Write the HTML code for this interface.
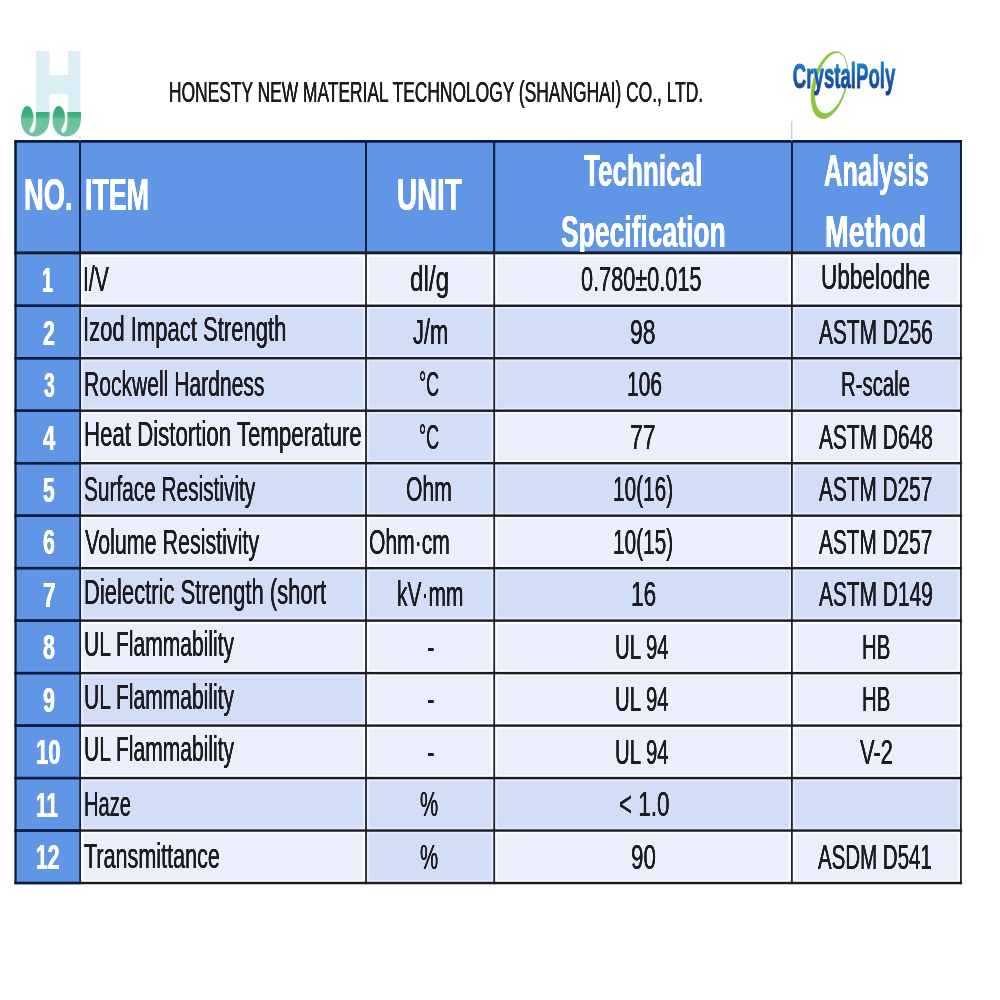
<!DOCTYPE html>
<html><head><meta charset="utf-8"><title>Technical Data Sheet</title>
<style>
html,body{margin:0;padding:0;background:#fff;}
body{filter:blur(0.45px);width:1000px;height:1000px;position:relative;overflow:hidden;font-family:"Liberation Sans",sans-serif;}
.t{color:#1c1c1e;position:absolute;white-space:pre;transform-origin:0 0;line-height:1;margin:0;text-shadow:0.12px 0 0 currentColor,-0.12px 0 0 currentColor;}
.b{font-weight:bold;color:#fff;text-shadow:0.25px 0 0 currentColor,-0.25px 0 0 currentColor;}
.logo{font-weight:bold;color:transparent;background:linear-gradient(#1b86c8 18%,#1a5cb2 50%,#173e9a 80%);-webkit-background-clip:text;background-clip:text;}
.hd{position:absolute;left:0;top:0;width:1000px;height:251.7px;overflow:hidden;}
svg{position:absolute;left:0;top:0;}
</style></head><body>

<svg width="1000" height="1000" viewBox="0 0 1000 1000">
<rect x="15.5" y="141.3" width="945.4" height="111.69999999999999" fill="#6195e6"/>
<rect x="15.5" y="253.0" width="64.6" height="630.03" fill="#6195e6"/>
<rect x="80.1" y="252.85" width="285.90" height="52.90" fill="#fbfcff"/>
<rect x="83.30" y="257.05" width="279.50" height="45.50" fill="#eaeffb"/>
<rect x="366.0" y="252.85" width="128.20" height="52.90" fill="#fbfcff"/>
<rect x="369.20" y="257.05" width="121.80" height="45.50" fill="#eaeffb"/>
<rect x="494.2" y="252.85" width="297.70" height="52.90" fill="#fbfcff"/>
<rect x="497.40" y="257.05" width="291.30" height="45.50" fill="#eaeffb"/>
<rect x="791.9" y="252.85" width="169.00" height="52.90" fill="#fbfcff"/>
<rect x="795.10" y="257.05" width="162.60" height="45.50" fill="#eaeffb"/>
<rect x="80.1" y="305.75" width="285.90" height="52.48" fill="#e3ebfb"/>
<rect x="83.30" y="308.95" width="279.50" height="46.08" fill="#d2ddf6"/>
<rect x="366.0" y="305.75" width="128.20" height="52.48" fill="#e3ebfb"/>
<rect x="369.20" y="308.95" width="121.80" height="46.08" fill="#d2ddf6"/>
<rect x="494.2" y="305.75" width="297.70" height="52.48" fill="#e3ebfb"/>
<rect x="497.40" y="308.95" width="291.30" height="46.08" fill="#d2ddf6"/>
<rect x="791.9" y="305.75" width="169.00" height="52.48" fill="#e3ebfb"/>
<rect x="795.10" y="308.95" width="162.60" height="46.08" fill="#d2ddf6"/>
<rect x="80.1" y="358.23" width="285.90" height="52.48" fill="#e3ebfb"/>
<rect x="83.30" y="361.43" width="279.50" height="46.08" fill="#d2ddf6"/>
<rect x="366.0" y="358.23" width="128.20" height="52.48" fill="#e3ebfb"/>
<rect x="369.20" y="361.43" width="121.80" height="46.08" fill="#d2ddf6"/>
<rect x="494.2" y="358.23" width="297.70" height="52.48" fill="#e3ebfb"/>
<rect x="497.40" y="361.43" width="291.30" height="46.08" fill="#d2ddf6"/>
<rect x="791.9" y="358.23" width="169.00" height="52.48" fill="#e3ebfb"/>
<rect x="795.10" y="361.43" width="162.60" height="46.08" fill="#d2ddf6"/>
<rect x="80.1" y="410.71" width="285.90" height="52.48" fill="#fbfcff"/>
<rect x="83.30" y="413.91" width="279.50" height="46.08" fill="#eaeffb"/>
<rect x="366.0" y="410.71" width="128.20" height="52.48" fill="#e3ebfb"/>
<rect x="369.20" y="413.91" width="121.80" height="46.08" fill="#d2ddf6"/>
<rect x="494.2" y="410.71" width="297.70" height="52.48" fill="#fbfcff"/>
<rect x="497.40" y="413.91" width="291.30" height="46.08" fill="#eaeffb"/>
<rect x="791.9" y="410.71" width="169.00" height="52.48" fill="#fbfcff"/>
<rect x="795.10" y="413.91" width="162.60" height="46.08" fill="#eaeffb"/>
<rect x="80.1" y="463.19" width="285.90" height="52.48" fill="#e3ebfb"/>
<rect x="83.30" y="466.39" width="279.50" height="46.08" fill="#d2ddf6"/>
<rect x="366.0" y="463.19" width="128.20" height="52.48" fill="#e3ebfb"/>
<rect x="369.20" y="466.39" width="121.80" height="46.08" fill="#d2ddf6"/>
<rect x="494.2" y="463.19" width="297.70" height="52.48" fill="#e3ebfb"/>
<rect x="497.40" y="466.39" width="291.30" height="46.08" fill="#d2ddf6"/>
<rect x="791.9" y="463.19" width="169.00" height="52.48" fill="#e3ebfb"/>
<rect x="795.10" y="466.39" width="162.60" height="46.08" fill="#d2ddf6"/>
<rect x="80.1" y="515.67" width="285.90" height="52.48" fill="#fbfcff"/>
<rect x="83.30" y="518.87" width="279.50" height="46.08" fill="#eaeffb"/>
<rect x="366.0" y="515.67" width="128.20" height="52.48" fill="#fbfcff"/>
<rect x="369.20" y="518.87" width="121.80" height="46.08" fill="#eaeffb"/>
<rect x="494.2" y="515.67" width="297.70" height="52.48" fill="#fbfcff"/>
<rect x="497.40" y="518.87" width="291.30" height="46.08" fill="#eaeffb"/>
<rect x="791.9" y="515.67" width="169.00" height="52.48" fill="#fbfcff"/>
<rect x="795.10" y="518.87" width="162.60" height="46.08" fill="#eaeffb"/>
<rect x="80.1" y="568.15" width="285.90" height="52.48" fill="#e3ebfb"/>
<rect x="83.30" y="571.35" width="279.50" height="46.08" fill="#d2ddf6"/>
<rect x="366.0" y="568.15" width="128.20" height="52.48" fill="#e3ebfb"/>
<rect x="369.20" y="571.35" width="121.80" height="46.08" fill="#d2ddf6"/>
<rect x="494.2" y="568.15" width="297.70" height="52.48" fill="#e3ebfb"/>
<rect x="497.40" y="571.35" width="291.30" height="46.08" fill="#d2ddf6"/>
<rect x="791.9" y="568.15" width="169.00" height="52.48" fill="#e3ebfb"/>
<rect x="795.10" y="571.35" width="162.60" height="46.08" fill="#d2ddf6"/>
<rect x="80.1" y="620.63" width="285.90" height="52.48" fill="#fbfcff"/>
<rect x="83.30" y="623.83" width="279.50" height="46.08" fill="#eaeffb"/>
<rect x="366.0" y="620.63" width="128.20" height="52.48" fill="#fbfcff"/>
<rect x="369.20" y="623.83" width="121.80" height="46.08" fill="#eaeffb"/>
<rect x="494.2" y="620.63" width="297.70" height="52.48" fill="#fbfcff"/>
<rect x="497.40" y="623.83" width="291.30" height="46.08" fill="#eaeffb"/>
<rect x="791.9" y="620.63" width="169.00" height="52.48" fill="#fbfcff"/>
<rect x="795.10" y="623.83" width="162.60" height="46.08" fill="#eaeffb"/>
<rect x="80.1" y="673.11" width="285.90" height="52.48" fill="#e3ebfb"/>
<rect x="83.30" y="676.31" width="279.50" height="46.08" fill="#d2ddf6"/>
<rect x="366.0" y="673.11" width="128.20" height="52.48" fill="#fbfcff"/>
<rect x="369.20" y="676.31" width="121.80" height="46.08" fill="#eaeffb"/>
<rect x="494.2" y="673.11" width="297.70" height="52.48" fill="#fbfcff"/>
<rect x="497.40" y="676.31" width="291.30" height="46.08" fill="#eaeffb"/>
<rect x="791.9" y="673.11" width="169.00" height="52.48" fill="#fbfcff"/>
<rect x="795.10" y="676.31" width="162.60" height="46.08" fill="#eaeffb"/>
<rect x="80.1" y="725.59" width="285.90" height="52.48" fill="#fbfcff"/>
<rect x="83.30" y="728.79" width="279.50" height="46.08" fill="#eaeffb"/>
<rect x="366.0" y="725.59" width="128.20" height="52.48" fill="#fbfcff"/>
<rect x="369.20" y="728.79" width="121.80" height="46.08" fill="#eaeffb"/>
<rect x="494.2" y="725.59" width="297.70" height="52.48" fill="#fbfcff"/>
<rect x="497.40" y="728.79" width="291.30" height="46.08" fill="#eaeffb"/>
<rect x="791.9" y="725.59" width="169.00" height="52.48" fill="#fbfcff"/>
<rect x="795.10" y="728.79" width="162.60" height="46.08" fill="#eaeffb"/>
<rect x="80.1" y="778.07" width="285.90" height="52.48" fill="#e3ebfb"/>
<rect x="83.30" y="781.27" width="279.50" height="46.08" fill="#d2ddf6"/>
<rect x="366.0" y="778.07" width="128.20" height="52.48" fill="#e3ebfb"/>
<rect x="369.20" y="781.27" width="121.80" height="46.08" fill="#d2ddf6"/>
<rect x="494.2" y="778.07" width="297.70" height="52.48" fill="#e3ebfb"/>
<rect x="497.40" y="781.27" width="291.30" height="46.08" fill="#d2ddf6"/>
<rect x="791.9" y="778.07" width="169.00" height="52.48" fill="#e3ebfb"/>
<rect x="795.10" y="781.27" width="162.60" height="46.08" fill="#d2ddf6"/>
<rect x="80.1" y="830.55" width="285.90" height="52.48" fill="#fbfcff"/>
<rect x="83.30" y="833.75" width="279.50" height="46.08" fill="#eaeffb"/>
<rect x="366.0" y="830.55" width="128.20" height="52.48" fill="#e3ebfb"/>
<rect x="369.20" y="833.75" width="121.80" height="46.08" fill="#d2ddf6"/>
<rect x="494.2" y="830.55" width="297.70" height="52.48" fill="#fbfcff"/>
<rect x="497.40" y="833.75" width="291.30" height="46.08" fill="#eaeffb"/>
<rect x="791.9" y="830.55" width="169.00" height="52.48" fill="#fbfcff"/>
<rect x="795.10" y="833.75" width="162.60" height="46.08" fill="#eaeffb"/>
<rect x="14.60" y="140.10" width="1.8" height="744.13" fill="#20232b"/>
<rect x="79.20" y="140.10" width="1.8" height="744.13" fill="#20232b"/>
<rect x="365.10" y="140.10" width="1.8" height="744.13" fill="#20232b"/>
<rect x="493.30" y="140.10" width="1.8" height="744.13" fill="#20232b"/>
<rect x="791.00" y="140.10" width="1.8" height="744.13" fill="#20232b"/>
<rect x="960.00" y="140.10" width="1.8" height="744.13" fill="#20232b"/>
<rect x="14.30" y="140.10" width="947.80" height="2.4" fill="#1a1c22"/>
<rect x="14.30" y="251.40" width="947.80" height="2.9" fill="#1a1c22"/>
<rect x="14.30" y="304.55" width="947.80" height="2.4" fill="#1a1c22"/>
<rect x="14.30" y="357.03" width="947.80" height="2.4" fill="#1a1c22"/>
<rect x="14.30" y="409.51" width="947.80" height="2.4" fill="#1a1c22"/>
<rect x="14.30" y="461.99" width="947.80" height="2.4" fill="#1a1c22"/>
<rect x="14.30" y="514.47" width="947.80" height="2.4" fill="#1a1c22"/>
<rect x="14.30" y="566.95" width="947.80" height="2.4" fill="#1a1c22"/>
<rect x="14.30" y="619.43" width="947.80" height="2.4" fill="#1a1c22"/>
<rect x="14.30" y="671.91" width="947.80" height="2.4" fill="#1a1c22"/>
<rect x="14.30" y="724.39" width="947.80" height="2.4" fill="#1a1c22"/>
<rect x="14.30" y="776.87" width="947.80" height="2.4" fill="#1a1c22"/>
<rect x="14.30" y="829.35" width="947.80" height="2.4" fill="#1a1c22"/>
<rect x="14.30" y="881.83" width="947.80" height="2.4" fill="#1a1c22"/>
<rect x="14.60" y="140.10" width="1.8" height="111.55" fill="#0b1c44"/>
<rect x="79.20" y="140.10" width="1.8" height="111.55" fill="#0b1c44"/>
<rect x="365.10" y="140.10" width="1.8" height="111.55" fill="#0b1c44"/>
<rect x="493.30" y="140.10" width="1.8" height="111.55" fill="#0b1c44"/>
<rect x="791.00" y="140.10" width="1.8" height="111.55" fill="#0b1c44"/>
<rect x="960.00" y="140.10" width="1.8" height="111.55" fill="#0b1c44"/>
<rect x="14.60" y="141.30" width="1.8" height="741.73" fill="#0b1c44"/>
<rect x="15.50" y="140.10" width="945.40" height="2.4" fill="#0b1c44"/>
<rect x="15.50" y="304.55" width="64.60" height="2.4" fill="#0b1c44"/>
<rect x="15.50" y="357.03" width="64.60" height="2.4" fill="#0b1c44"/>
<rect x="15.50" y="409.51" width="64.60" height="2.4" fill="#0b1c44"/>
<rect x="15.50" y="461.99" width="64.60" height="2.4" fill="#0b1c44"/>
<rect x="15.50" y="514.47" width="64.60" height="2.4" fill="#0b1c44"/>
<rect x="15.50" y="566.95" width="64.60" height="2.4" fill="#0b1c44"/>
<rect x="15.50" y="619.43" width="64.60" height="2.4" fill="#0b1c44"/>
<rect x="15.50" y="671.91" width="64.60" height="2.4" fill="#0b1c44"/>
<rect x="15.50" y="724.39" width="64.60" height="2.4" fill="#0b1c44"/>
<rect x="15.50" y="776.87" width="64.60" height="2.4" fill="#0b1c44"/>
<rect x="15.50" y="829.35" width="64.60" height="2.4" fill="#0b1c44"/>
<rect x="15.50" y="881.83" width="64.60" height="2.4" fill="#0b1c44"/>
</svg>
<svg width="1000" height="141" viewBox="0 0 1000 141">
<defs>
<linearGradient id="gh" x1="0" y1="106" x2="0" y2="136" gradientUnits="userSpaceOnUse">
<stop offset="0" stop-color="#34ab78"/><stop offset="0.36" stop-color="#3fb282"/><stop offset="0.42" stop-color="#6cc29b"/><stop offset="1" stop-color="#72c4a0"/>
</linearGradient>
<linearGradient id="gc" x1="0" y1="62" x2="0" y2="95" gradientUnits="userSpaceOnUse">
<stop offset="0" stop-color="#1a7fc4"/><stop offset="0.45" stop-color="#1a5bb0"/><stop offset="1" stop-color="#173f9c"/>
</linearGradient>
</defs>
<!-- left logo: H with hooks -->
<path d="M36,51 H49.5 V75 H68 V51 H80.5 V113 H68 V94 H49.5 V113 H36 Z" fill="#dbeef5"/>
<g id="hook">
<path d="M49.5,112 L49.5,118 C49.5,130 42.5,136.5 34.5,136.5 C25.5,136.5 21,128.5 21,120 C21,112 23.8,106 27.2,106 C31,106 33.6,112 33.6,118.5 C33.6,124.5 29.6,128 29.8,130.6 C30,132.6 31.8,133.2 33.2,132 C35.6,129.8 36,124 36,118 L36,112 Z" fill="url(#gh)"/>
</g>
<use href="#hook" x="31.5" y="0"/>
<!-- right logo: CrystalPoly -->
<path fill="#8cc63f" fill-rule="evenodd" d="
M0,-34.7 A17.2,34.7 0 1 1 0,34.7 A17.2,34.7 0 1 1 0,-34.7 Z
M1.0,-33.2 A14.6,30.95 0 1 0 1.0,28.7 A14.6,30.95 0 1 0 1.0,-33.2 Z" transform="translate(829.5,85) rotate(14.5)"/>
<rect x="791.3" y="121" width="1" height="20" fill="#b9b9cf"/>
<rect x="79.6" y="136" width="0.8" height="5" fill="#c9c9d6"/>
</svg>

<div class="t" style="left:169.22px;top:77.42px;font-size:29.5px;transform:scaleX(0.5896);">HONESTY NEW MATERIAL TECHNOLOGY (SHANGHAI) CO., LTD.</div>
<svg width="1000" height="141" viewBox="0 0 1000 141"><defs><linearGradient id="gt" x1="0" y1="-26" x2="0" y2="6" gradientUnits="userSpaceOnUse"><stop offset="0" stop-color="#1b86c8"/><stop offset="0.45" stop-color="#1a5cb2"/><stop offset="1" stop-color="#173c98"/></linearGradient></defs><text transform="translate(792.86,88.0) scale(0.5402,1)" font-family="Liberation Sans, sans-serif" font-weight="bold" font-size="34.5" fill="url(#gt)" stroke="url(#gt)" stroke-width="0.9" stroke-linejoin="round">CrystalPoly</text></svg>
<div class="t b" style="left:41.88px;top:262.07px;font-size:35.0px;transform:scaleX(0.5588);">1</div>
<div class="t" style="left:82.68px;top:262.23px;font-size:34.8px;transform:scaleX(0.6074);">I/V</div>
<div class="t" style="left:409.80px;top:262.23px;font-size:34.8px;transform:scaleX(0.6977);">dl/g</div>
<div class="t" style="left:581.38px;top:262.23px;font-size:34.8px;transform:scaleX(0.6234);">0.780±0.015</div>
<div class="t" style="left:820.70px;top:259.93px;font-size:34.8px;transform:scaleX(0.6486);">Ubbelodhe</div>
<div class="t b" style="left:42.89px;top:314.55px;font-size:35.0px;transform:scaleX(0.6111);">2</div>
<div class="t" style="left:83.10px;top:312.01px;font-size:34.8px;transform:scaleX(0.6334);">Izod Impact Strength</div>
<div class="t" style="left:413.00px;top:314.71px;font-size:34.8px;transform:scaleX(0.6289);">J/m</div>
<div class="t" style="left:630.34px;top:314.71px;font-size:34.8px;transform:scaleX(0.6602);">98</div>
<div class="t" style="left:819.00px;top:314.71px;font-size:34.8px;transform:scaleX(0.6005);">ASTM D256</div>
<div class="t b" style="left:43.50px;top:367.03px;font-size:35.0px;transform:scaleX(0.5526);">3</div>
<div class="t" style="left:83.79px;top:366.99px;font-size:34.8px;transform:scaleX(0.6059);">Rockwell Hardness</div>
<div class="t" style="left:418.58px;top:367.19px;font-size:34.8px;transform:scaleX(0.5123);">°C</div>
<div class="t" style="left:626.79px;top:367.19px;font-size:34.8px;transform:scaleX(0.6032);">106</div>
<div class="t" style="left:840.83px;top:367.19px;font-size:34.8px;transform:scaleX(0.5847);">R-scale</div>
<div class="t b" style="left:42.50px;top:419.51px;font-size:35.0px;transform:scaleX(0.6250);">4</div>
<div class="t" style="left:83.72px;top:417.07px;font-size:34.8px;transform:scaleX(0.6392);">Heat Distortion Temperature</div>
<div class="t" style="left:418.58px;top:419.67px;font-size:34.8px;transform:scaleX(0.5123);">°C</div>
<div class="t" style="left:630.34px;top:419.67px;font-size:34.8px;transform:scaleX(0.6602);">77</div>
<div class="t" style="left:819.00px;top:419.67px;font-size:34.8px;transform:scaleX(0.6005);">ASTM D648</div>
<div class="t b" style="left:42.90px;top:471.99px;font-size:35.0px;transform:scaleX(0.6000);">5</div>
<div class="t" style="left:84.40px;top:471.55px;font-size:34.8px;transform:scaleX(0.5983);">Surface Resistivity</div>
<div class="t" style="left:406.39px;top:472.15px;font-size:34.8px;transform:scaleX(0.6076);">Ohm</div>
<div class="t" style="left:612.80px;top:472.15px;font-size:34.8px;transform:scaleX(0.5980);">10(16)</div>
<div class="t" style="left:819.00px;top:472.15px;font-size:34.8px;transform:scaleX(0.5979);">ASTM D257</div>
<div class="t b" style="left:42.89px;top:524.47px;font-size:35.0px;transform:scaleX(0.6111);">6</div>
<div class="t" style="left:84.50px;top:524.53px;font-size:34.8px;transform:scaleX(0.6167);">Volume Resistivity</div>
<div class="t" style="left:369.39px;top:524.63px;font-size:34.8px;transform:scaleX(0.6059);">Ohm·cm</div>
<div class="t" style="left:612.80px;top:524.63px;font-size:34.8px;transform:scaleX(0.5980);">10(15)</div>
<div class="t" style="left:819.00px;top:524.63px;font-size:34.8px;transform:scaleX(0.5979);">ASTM D257</div>
<div class="t b" style="left:42.85px;top:576.95px;font-size:35.0px;transform:scaleX(0.6471);">7</div>
<div class="t" style="left:83.74px;top:574.51px;font-size:34.8px;transform:scaleX(0.6322);">Dielectric Strength (short</div>
<div class="t" style="left:396.79px;top:577.11px;font-size:34.8px;transform:scaleX(0.6027);">kV·mm</div>
<div class="t" style="left:630.70px;top:577.11px;font-size:34.8px;transform:scaleX(0.6506);">16</div>
<div class="t" style="left:819.00px;top:577.11px;font-size:34.8px;transform:scaleX(0.6005);">ASTM D149</div>
<div class="t b" style="left:42.89px;top:629.43px;font-size:35.0px;transform:scaleX(0.6111);">8</div>
<div class="t" style="left:83.79px;top:626.99px;font-size:34.8px;transform:scaleX(0.6048);">UL Flammability</div>
<div class="t" style="left:426.96px;top:629.59px;font-size:34.8px;transform:scaleX(0.6400);">-</div>
<div class="t" style="left:614.83px;top:629.59px;font-size:34.8px;transform:scaleX(0.5856);">UL 94</div>
<div class="t" style="left:862.43px;top:629.59px;font-size:34.8px;transform:scaleX(0.5850);">HB</div>
<div class="t b" style="left:42.89px;top:681.91px;font-size:35.0px;transform:scaleX(0.6111);">9</div>
<div class="t" style="left:83.79px;top:679.57px;font-size:34.8px;transform:scaleX(0.6048);">UL Flammability</div>
<div class="t" style="left:426.96px;top:682.07px;font-size:34.8px;transform:scaleX(0.6400);">-</div>
<div class="t" style="left:614.83px;top:682.07px;font-size:34.8px;transform:scaleX(0.5856);">UL 94</div>
<div class="t" style="left:862.43px;top:682.07px;font-size:34.8px;transform:scaleX(0.5850);">HB</div>
<div class="t b" style="left:35.74px;top:734.39px;font-size:35.0px;transform:scaleX(0.6307);">10</div>
<div class="t" style="left:83.79px;top:732.05px;font-size:34.8px;transform:scaleX(0.6048);">UL Flammability</div>
<div class="t" style="left:426.96px;top:734.55px;font-size:34.8px;transform:scaleX(0.6400);">-</div>
<div class="t" style="left:614.83px;top:734.55px;font-size:34.8px;transform:scaleX(0.5856);">UL 94</div>
<div class="t" style="left:860.00px;top:734.55px;font-size:34.8px;transform:scaleX(0.6290);">V-2</div>
<div class="t b" style="left:36.31px;top:786.87px;font-size:35.0px;transform:scaleX(0.5936);">11</div>
<div class="t" style="left:83.84px;top:787.03px;font-size:34.8px;transform:scaleX(0.5778);">Haze</div>
<div class="t" style="left:420.41px;top:787.03px;font-size:34.8px;transform:scaleX(0.5862);">%</div>
<div class="t" style="left:619.36px;top:787.03px;font-size:34.8px;transform:scaleX(0.6447);">&lt; 1.0</div>
<div class="t b" style="left:36.29px;top:839.35px;font-size:35.0px;transform:scaleX(0.6033);">12</div>
<div class="t" style="left:84.00px;top:839.01px;font-size:34.8px;transform:scaleX(0.6198);">Transmittance</div>
<div class="t" style="left:420.41px;top:839.51px;font-size:34.8px;transform:scaleX(0.5862);">%</div>
<div class="t" style="left:630.96px;top:839.51px;font-size:34.8px;transform:scaleX(0.6437);">90</div>
<div class="t" style="left:818.00px;top:839.51px;font-size:34.8px;transform:scaleX(0.5884);">ASDM D541</div>
<div class="hd"><div class="t b" style="left:23.76px;top:173.35px;font-size:44.0px;transform:scaleX(0.6216);">NO.</div>
<div class="t b" style="left:85.18px;top:173.35px;font-size:44.0px;transform:scaleX(0.6093);">ITEM</div>
<div class="t b" style="left:396.74px;top:173.35px;font-size:44.0px;transform:scaleX(0.6311);">UNIT</div>
<div class="t b" style="left:584.00px;top:149.05px;font-size:44.0px;transform:scaleX(0.5925);">Technical</div>
<div class="t b" style="left:561.40px;top:209.95px;font-size:44.0px;transform:scaleX(0.6016);">Specification</div>
<div class="t b" style="left:823.82px;top:149.05px;font-size:44.0px;transform:scaleX(0.5781);">Analysis</div>
<div class="t b" style="left:825.11px;top:209.95px;font-size:44.0px;transform:scaleX(0.6467);">Method</div></div>
</body></html>
